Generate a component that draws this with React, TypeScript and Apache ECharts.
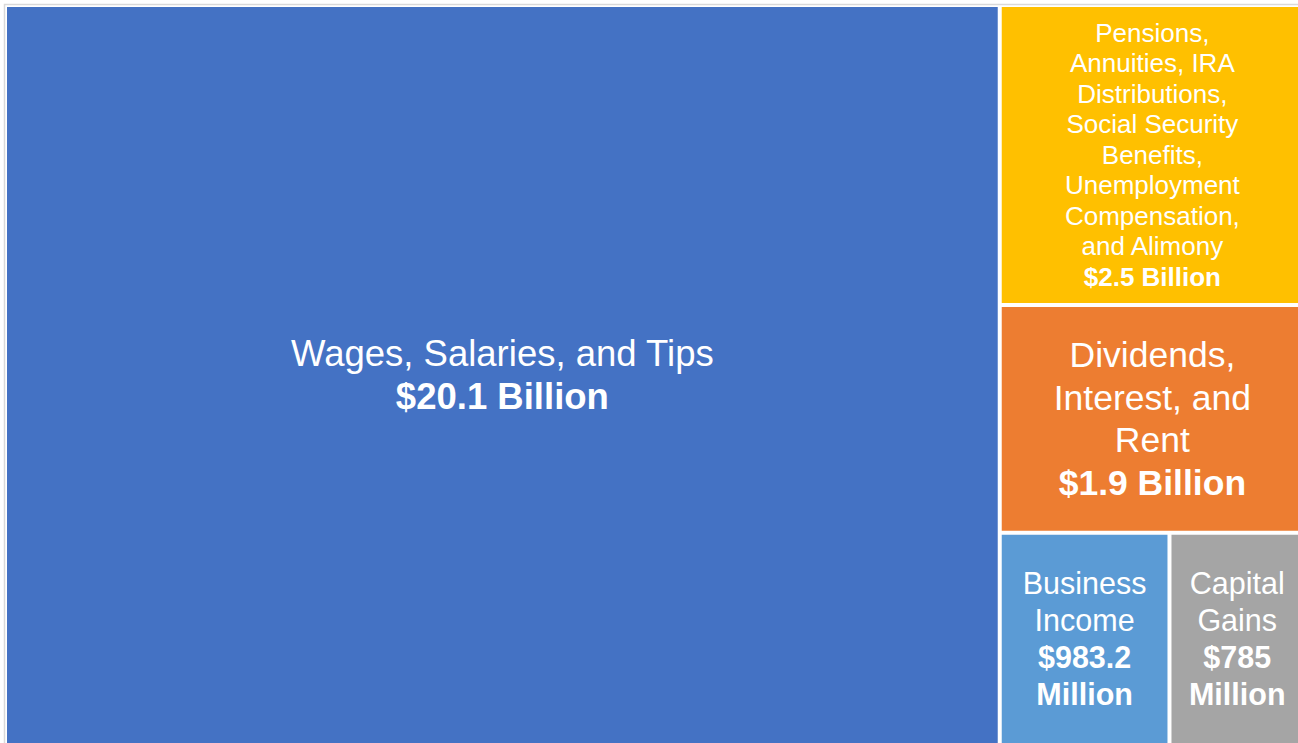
import React, { useEffect, useRef } from "react";
import * as echarts from "echarts";

const categories = [
  "Wages, Salaries, and Tips",
  "Pensions, Annuities, IRA Distributions, Social Security Benefits, Unemployment Compensation, and Alimony",
  "Dividends, Interest, and Rent",
  "Business Income",
  "Capital Gains",
];
// values in billions of dollars
const values = [20.1, 2.5, 1.9, 0.9832, 0.785];
const valueLabels = ["$20.1 Billion", "$2.5 Billion", "$1.9 Billion", "$983.2\nMillion", "$785\nMillion"];
const nameLines = [
  ["Wages, Salaries, and Tips"],
  ["Pensions,", "Annuities, IRA", "Distributions,", "Social Security", "Benefits,", "Unemployment", "Compensation,", "and Alimony"],
  ["Dividends,", "Interest, and", "Rent"],
  ["Business", "Income"],
  ["Capital", "Gains"],
];
const colors = ["#4472C4", "#FFC000", "#ED7D31", "#5B9BD5", "#A5A5A5"];
const fontSizes = [36.5, 26, 35.5, 30.5, 30.5];
const lineHeights = [43, 30.5, 42.5, 37, 37];

const FONT = "'Liberation Sans', Arial, sans-serif";

export default function App() {
  const ref = useRef<HTMLDivElement>(null);
  useEffect(() => {
    if (!ref.current) return;
    const chart = echarts.init(ref.current, undefined, { renderer: "svg" });
    const buildData = (paddings: number[]) =>
      categories.map((name, i) => {
        const lines = nameLines[i].map((l) => `{n|${l}}`);
        const vals = valueLabels[i].split("\n").map((l) => `{v|${l}}`);
        return {
          name,
          value: values[i],
          itemStyle: { color: colors[i] },
          label: {
            formatter: [...lines, ...vals].join("\n"),
            padding: [paddings[i] || 0, 0, 0, 0],
            rich: {
              n: {
                fontFamily: FONT,
                fontSize: fontSizes[i],
                lineHeight: lineHeights[i],
                color: "#ffffff",
                align: "center",
              },
              v: {
                fontFamily: FONT,
                fontSize: fontSizes[i],
                lineHeight: lineHeights[i],
                fontWeight: "bold",
                color: "#ffffff",
                align: "center",
              },
            },
          },
        };
      });
    const makeOption = (paddings: number[]) => ({
      animation: false,
      graphic: [
        {
          type: "rect",
          z: 100,
          shape: { x: 4.5, y: 4.5, width: 1400, height: 800 },
          style: { fill: "none", stroke: "#d9d9d9", lineWidth: 1.5 },
        },
      ],
      series: [
        {
          type: "treemap",
          left: 5,
          top: 5,
          width: 1300,
          height: 740,
          roam: false,
          nodeClick: false,
          squareRatio: 1,
          breadcrumb: { show: false },
          sort: "desc",
          label: {
            show: true,
            position: "inside",
            align: "center",
            overflow: "none",
          },
          upperLabel: { show: false },
          levels: [
            { itemStyle: { borderWidth: 2, borderColor: "#ffffff", gapWidth: 4 } },
            { itemStyle: { borderWidth: 0, gapWidth: 0 } },
          ],
          data: buildData(paddings),
        },
      ],
    });
    chart.setOption(makeOption([]));
    // centre each label vertically in its rectangle, using the layout the treemap computed
    try {
      const seriesModel = (chart as any).getModel().getSeriesByIndex(0);
      const list = seriesModel.getData();
      const paddings = categories.map(() => 0);
      list.each((idx: number) => {
        const name = list.getName(idx);
        const ci = categories.indexOf(name);
        if (ci < 0) return;
        const lay = list.getItemLayout(idx);
        if (!lay) return;
        const nLines = nameLines[ci].length + valueLabels[ci].split("\n").length;
        const textH = nLines * lineHeights[ci];
        paddings[ci] = Math.max(0, (lay.height - textH) / 2);
      });
      chart.setOption(makeOption(paddings));
    } catch (e) {
      // keep default placement
    }
    return () => chart.dispose();
  }, []);
  return (
    <div
      ref={ref}
      style={{ position: "absolute", left: 0, top: 0, width: 1298, height: 743, background: "#fff" }}
    />
  );
}
